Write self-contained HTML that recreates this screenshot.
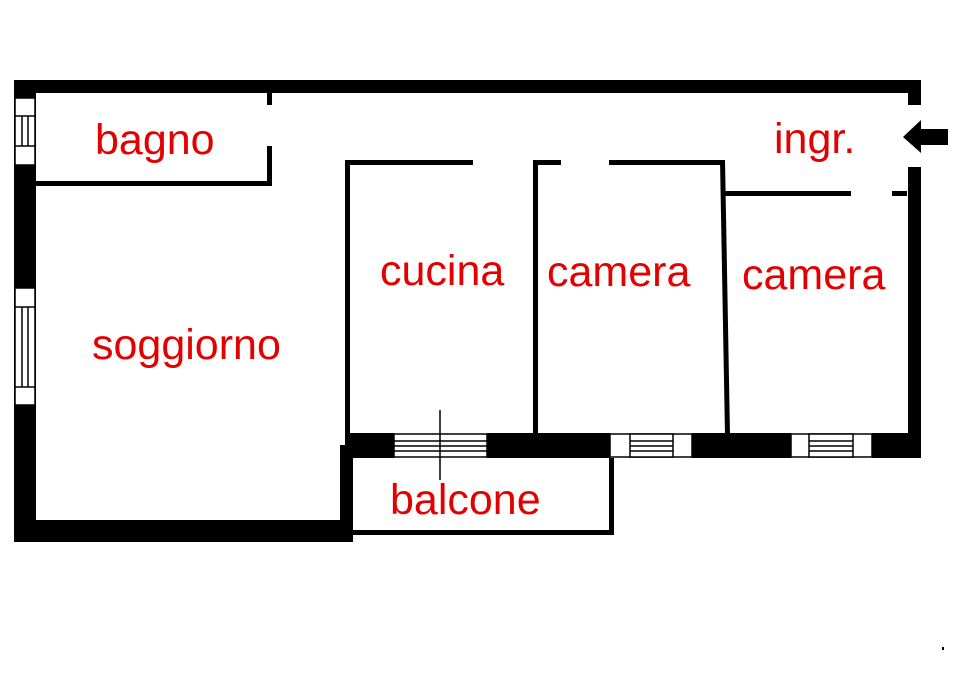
<!DOCTYPE html>
<html><head><meta charset="utf-8"><style>
html,body{margin:0;padding:0;background:#fff}
svg{display:block}
text{font-family:"Liberation Sans",Arial,sans-serif;font-size:43px;fill:#e30000}
</style></head><body>
<svg width="960" height="679" viewBox="0 0 960 679" xmlns="http://www.w3.org/2000/svg">
<g fill="#000">
<rect x="14" y="80" width="907" height="13"/>
<rect x="14" y="80" width="22" height="462"/>
<rect x="14" y="520" width="339" height="22"/>
<rect x="340" y="445" width="13" height="97"/>
<rect x="36" y="181" width="236" height="5"/>
<rect x="267" y="93" width="5" height="12"/>
<rect x="267" y="146" width="5" height="40"/>
<rect x="345" y="160" width="5" height="275"/>
<rect x="345" y="160" width="128" height="5"/>
<rect x="533" y="160" width="5" height="275"/>
<rect x="533" y="160" width="28" height="5"/>
<rect x="609" y="160" width="115" height="5"/>
<polygon points="720,160 725,160 730,435 725,435"/>
<rect x="725" y="191" width="126" height="5"/>
<rect x="892" y="191" width="15" height="5"/>
<rect x="908" y="80" width="13" height="25"/>
<rect x="908" y="167" width="13" height="291"/>
<rect x="345" y="433" width="49" height="25"/>
<rect x="487" y="433" width="123" height="25"/>
<rect x="692" y="433" width="99" height="25"/>
<rect x="872" y="433" width="49" height="25"/>
<rect x="353" y="530" width="261" height="5"/>
<rect x="609" y="458" width="5" height="77"/>
<polygon points="903,137 921,120 921,129 948,129 948,145 921,145 921,153"/>
<rect x="942" y="647" width="2" height="3"/>
</g>
<g fill="#fff" stroke="#000" stroke-width="1.5">
<rect x="15" y="98" width="20" height="67"/>
<rect x="15" y="116" width="20" height="30"/>
<line x1="22" y1="116" x2="22" y2="146"/><line x1="28" y1="116" x2="28" y2="146"/>
<rect x="15" y="288" width="20" height="117"/>
<rect x="15" y="307" width="20" height="80"/>
<line x1="22" y1="307" x2="22" y2="387"/><line x1="28" y1="307" x2="28" y2="387"/>
<rect x="394" y="434" width="93" height="23"/>
<line x1="394" y1="441" x2="487" y2="441"/><line x1="394" y1="446" x2="487" y2="446"/><line x1="394" y1="451" x2="487" y2="451"/>
<rect x="610" y="434" width="82" height="23"/>
<rect x="630" y="434" width="43" height="23"/>
<line x1="630" y1="441" x2="673" y2="441"/><line x1="630" y1="446" x2="673" y2="446"/><line x1="630" y1="451" x2="673" y2="451"/>
<rect x="791" y="434" width="81" height="23"/>
<rect x="809" y="434" width="44" height="23"/>
<line x1="809" y1="441" x2="853" y2="441"/><line x1="809" y1="446" x2="853" y2="446"/><line x1="809" y1="451" x2="853" y2="451"/>
</g>
<line x1="440" y1="410" x2="440" y2="480" stroke="#000" stroke-width="1.5"/>
<text x="95" y="154">bagno</text>
<text x="92" y="359">soggiorno</text>
<text x="380" y="285">cucina</text>
<text x="547" y="286">camera</text>
<text x="742" y="289">camera</text>
<text x="774" y="153">ingr.</text>
<text x="390" y="514">balcone</text>
</svg>
</body></html>
